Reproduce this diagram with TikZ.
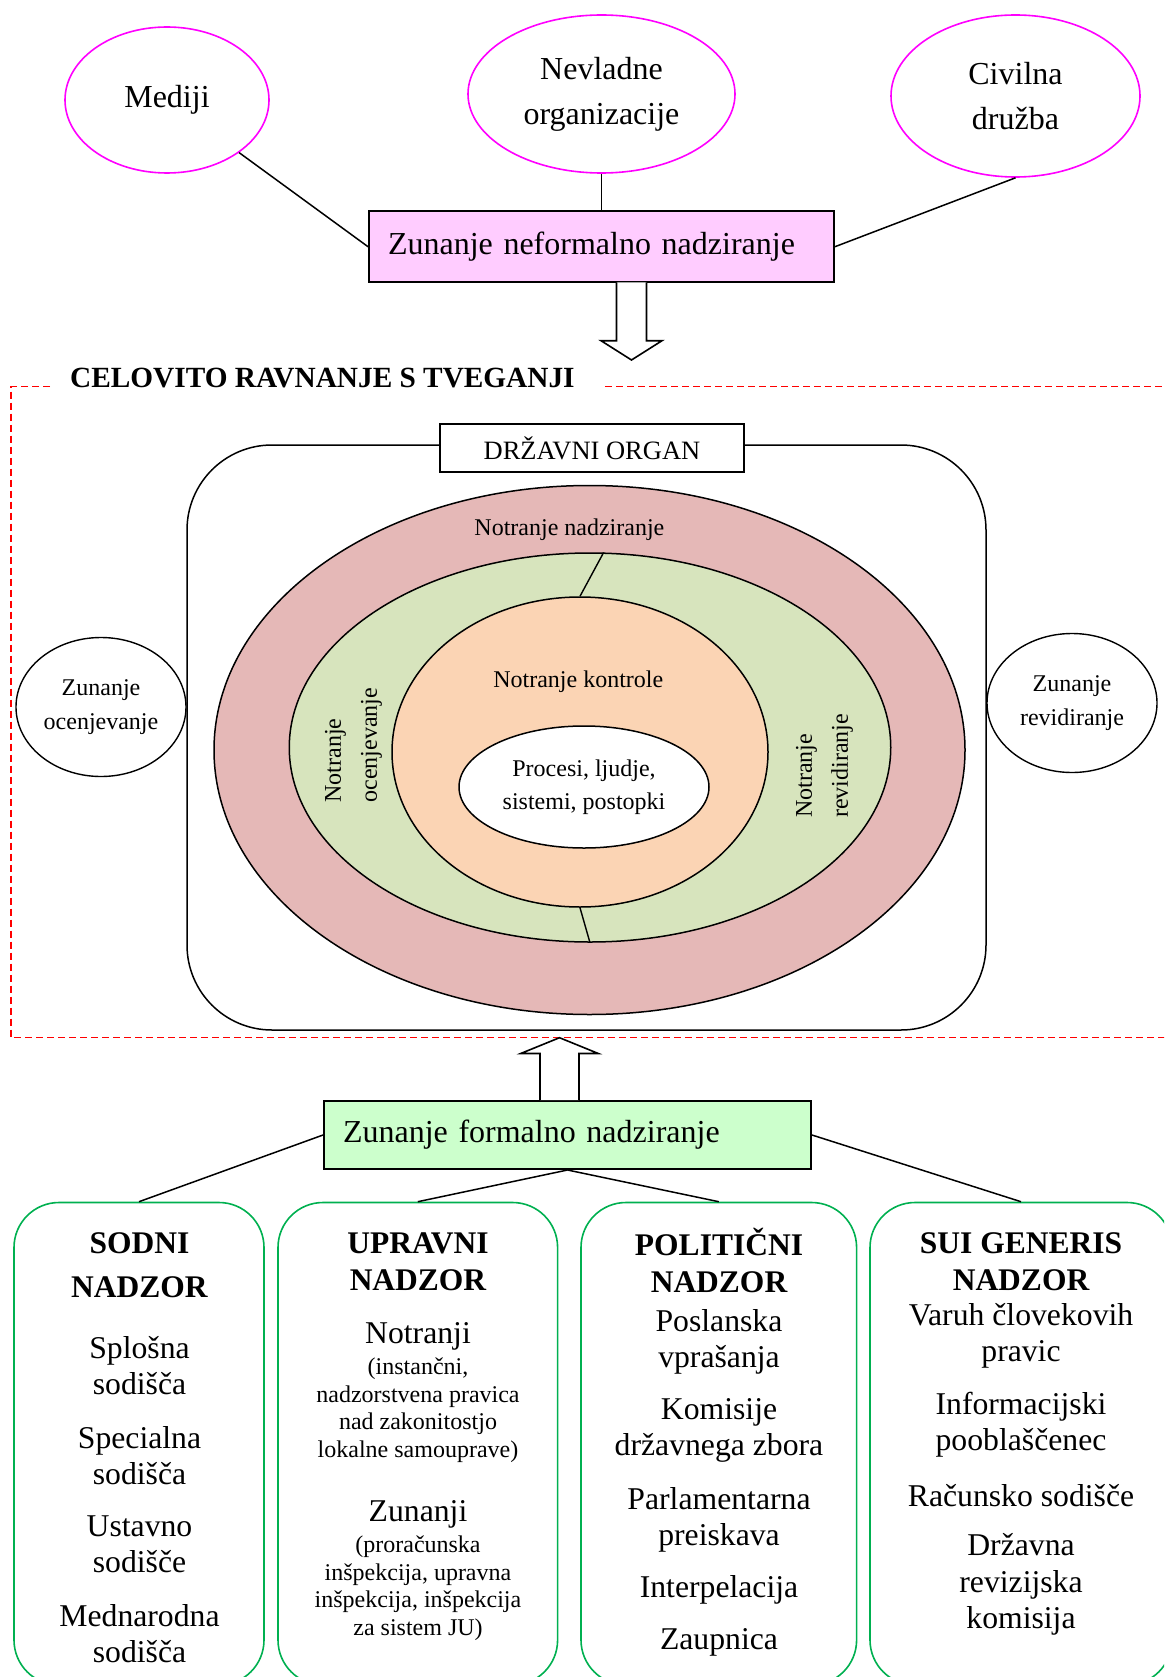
\documentclass[tikz,border=0pt]{standalone}
\usepackage{fontspec}
\setmainfont{Liberation Serif}
\usetikzlibrary{shapes.geometric}
\definecolor{magline}{HTML}{FF00FF}
\definecolor{pinkfill}{HTML}{FFCCFF}
\definecolor{greenfill}{HTML}{CCFFCC}
\definecolor{gborder}{HTML}{00B050}
\definecolor{nadzfill}{HTML}{E5B8B7}
\definecolor{ocenfill}{HTML}{D7E4BD}
\definecolor{kontfill}{HTML}{FBD4B4}
\definecolor{framered}{HTML}{FF0000}
\begin{document}
\begin{tikzpicture}[x=1pt,y=-1pt,
  magell/.style={ellipse, draw=magline, line width=1.6pt, inner sep=0pt, align=center, font=\fontsize{32}{45}\selectfont},
  conn/.style={line width=1.5pt},
  hollow/.style={draw, fill=white, line width=1.6pt, line join=miter},
  ring/.style={ellipse, draw, line width=1.5pt, inner sep=0pt},
  smell/.style={ellipse, draw, line width=1.4pt, inner sep=0pt, align=center, font=\fontsize{24}{34.5}\selectfont},
  midtxt/.style={font=\fontsize{24}{28}\selectfont, inner sep=0pt},
  vtxt/.style={rotate=90, anchor=west, align=left, inner sep=0pt, font=\fontsize{24}{36}\selectfont},
  headbox/.style={draw, line width=2pt, minimum height=#1, inner xsep=19pt, inner ysep=0pt, align=left, anchor=west, font=\fontsize{32}{38}\selectfont},
  gbox/.style={draw=gborder, line width=1.6pt, rounded corners=45pt, inner sep=0pt, minimum height=482.5pt},
  gtitle/.style={align=center, inner sep=0pt, font=\bfseries\fontsize{31.5}{#1}\selectfont},
  gitem/.style={align=center, inner sep=0pt, font=\fontsize{31.7}{36}\selectfont},
  gsmall/.style={align=center, inner sep=0pt, font=\fontsize{24}{27.5}\selectfont},
  reddash/.style={draw=framered, line width=1.8pt, dash pattern=on 7pt off 4pt}
]
\useasboundingbox (0,0) rectangle (1164,1677);
\clip (0,0) rectangle (1164,1677);

% ---------- top: informal external oversight ----------
\node[magell, minimum width=204pt, minimum height=146pt] (med) at (167,100) {Mediji};
\node[magell, minimum width=267pt, minimum height=158pt] (ngo) at (601.5,94) {Nevladne\\organizacije};
\node[magell, minimum width=249pt, minimum height=162pt] (civ) at (1015.5,96) {Civilna\\družba};

\node[headbox=71.5pt, fill=pinkfill, text width=427pt] (nef) at (368,246.7) {Zunanje neformalno nadziranje};

\draw[conn] (med) -- (nef.west);
\draw[conn] (ngo.south) -- (nef.north);
\draw[conn] (civ.south) -- (nef.east);

\draw[hollow] (616.5,282.4) -- (616.5,340.7) -- (601,340.7) -- (631.5,360) -- (662,340.7) -- (646.5,340.7) -- (646.5,282.4);

% ---------- frame ----------
\node[anchor=base west, inner sep=0pt, font=\bfseries\fontsize{29.3}{34}\selectfont] (title) at (70,387) {CELOVITO RAVNANJE S TVEGANJI};
\draw[reddash] (50,386.5) -- (11,386.5) -- (11,1037.5) -- (1175,1037.5);
\draw[reddash] (605,386.5) -- (1175,386.5);

% ---------- state body ----------
\node[draw, line width=1.5pt, rounded corners=85pt, minimum width=799pt, minimum height=585pt, inner sep=0pt] (organ) at (586.5,737.5) {};
\node[draw, fill=white, line width=1.5pt, minimum width=304pt, minimum height=48pt, inner sep=0pt, font=\fontsize{26.5}{30}\selectfont] (dorg) at (592,448) {DRŽAVNI ORGAN};

\node[ring, fill=nadzfill, minimum width=751pt, minimum height=529pt] (nadz) at (589.5,750) {};
\node[ring, fill=ocenfill, minimum width=601.5pt, minimum height=389pt] (ocen) at (590,747.5) {};
\node[ring, fill=kontfill, minimum width=376pt, minimum height=310pt] (kont) at (580,752) {};
\node[ring, fill=white, minimum width=250pt, minimum height=122pt, align=center, font=\fontsize{24}{33.5}\selectfont] (proc) at (584,787) {Procesi, ljudje,\\sistemi, postopki};

\draw[line width=1.4pt] (kont.north) -- (ocen.86);
\draw[line width=1.4pt] (kont.south) -- (ocen.south);

\node[midtxt] (tnadz) at (569.4,529.4) {Notranje nadziranje};
\node[midtxt] (tkont) at (578.3,682) {Notranje kontrole};
\node[vtxt] (tocen) at (353.5,802.7) {Notranje\\ocenjevanje};
\node[vtxt] (trev) at (824.5,818) {Notranje\\revidiranje};

\node[smell, minimum width=170pt, minimum height=139pt] (zoc) at (101,707) {Zunanje\\ocenjevanje};
\node[smell, minimum width=170pt, minimum height=139pt] (zrev) at (1072,703) {Zunanje\\revidiranje};

% ---------- bottom: formal external oversight ----------
\node[headbox=68pt, fill=greenfill, text width=449pt] (form) at (323,1135) {Zunanje formalno nadziranje};

\draw[hollow] (540,1100) -- (540,1053.5) -- (520.7,1053.5) -- (559.5,1037.7) -- (598.3,1053.5) -- (579,1053.5) -- (579,1100);

\node[gbox, minimum width=250pt] (sodni) at (139,1443.75) {};
\node[gbox, minimum width=279.6pt] (upravni) at (417.8,1443.75) {};
\node[gbox, minimum width=275.6pt] (polit) at (718.8,1443.75) {};
\node[gbox, minimum width=302pt] (sui) at (1021,1443.75) {};

\draw[conn] (form.west) -- (sodni.north);
\draw[conn] (form.south) -- (upravni.north);
\draw[conn] (form.south) -- (polit.north);
\draw[conn] (form.east) -- (sui.north);

% SODNI
\node[gtitle=44] (sodh) at (139.5,1264.8) {SODNI\\NADZOR};
\node[gitem] (sod1) at (139.5,1366) {Splošna\\sodišča};
\node[gitem] (sod2) at (139.5,1455.5) {Specialna\\sodišča};
\node[gitem] (sod3) at (139.5,1544.5) {Ustavno\\sodišče};
\node[gitem] (sod4) at (139.5,1633.5) {Mednarodna\\sodišča};

% UPRAVNI
\node[gtitle=37] (uprh) at (418,1261.5) {UPRAVNI\\NADZOR};
\node[gitem] (upr1) at (418,1336) {Notranji};
\node[gsmall] (upr1s) at (418,1410) {(instančni,\\nadzorstvena pravica\\nad zakonitostjo\\lokalne samouprave)};
\node[gitem] (upr2) at (418,1514) {Zunanji};
\node[gsmall] (upr2s) at (418,1588) {(proračunska\\inšpekcija, upravna\\inšpekcija, inšpekcija\\za sistem JU)};

% POLITIČNI
\node[gtitle=37] (polh) at (719,1260) {POLITIČNI\\NADZOR};
\node[gitem] (pol1) at (719,1342) {Poslanska\\vprašanja};
\node[gitem] (pol2) at (719,1430) {Komisije\\državnega zbora};
\node[gitem] (pol3) at (719,1519.5) {Parlamentarna\\preiskava};
\node[gitem] (pol4) at (719,1590) {Interpelacija};
\node[gitem] (pol5) at (719,1642) {Zaupnica};

% SUI GENERIS
\node[gtitle=37] (suih) at (1021,1262) {SUI GENERIS\\NADZOR};
\node[gitem] (sui1) at (1021,1336) {Varuh človekovih\\pravic};
\node[gitem] (sui2) at (1021,1425) {Informacijski\\pooblaščenec};
\node[gitem] (sui3) at (1021,1496) {Računsko sodišče};
\node[gitem, font=\fontsize{31.7}{36.5}\selectfont] (sui4) at (1021,1584.5) {Državna\\revizijska\\komisija};
\end{tikzpicture}
\end{document}
